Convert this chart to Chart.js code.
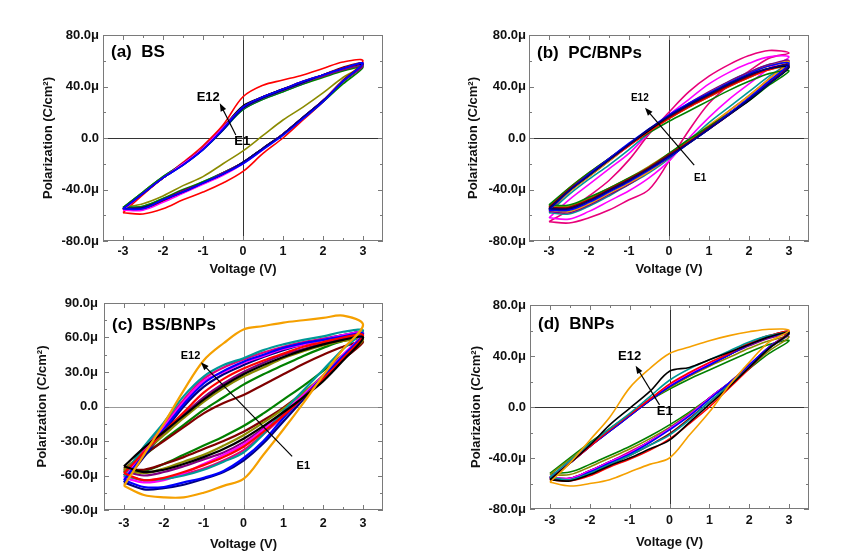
<!DOCTYPE html>
<html><head><meta charset="utf-8">
<script src="https://cdn.jsdelivr.net/npm/chart.js@4.4.0/dist/chart.umd.min.js"></script>
<style>
html,body{margin:0;padding:0;background:#fff;}
#wrap{position:relative;width:865px;height:558px;overflow:hidden;background:#fff;}
canvas{position:absolute;}
</style></head><body>
<div id="wrap">
<canvas id="ca" width="430" height="279" style="left:0;top:0"></canvas>
<canvas id="cb" width="435" height="279" style="left:430px;top:0"></canvas>
<canvas id="cc" width="430" height="279" style="left:0;top:279px"></canvas>
<canvas id="cd" width="435" height="279" style="left:430px;top:279px"></canvas>
</div>
<script>
// ---------- shared axes ----------
const voltage = [-3,-2.5,-2,-1.5,-1,-0.5,0,0.5,1,1.5,2,2.5,3];
const xTickValues = [-3,-2,-1,0,1,2,3];
const yTicks80 = [-80,-40,0,40,80];
const yTicks90 = [-90,-60,-30,0,30,60,90];

// ---------- (a) BS ----------
const bsColors = ['#0000FF','#000080','#FF00FF','#800080','#000000','#008000','#009999','#800000','#8B8B00','#FF0000','#E8007A','#4169E1'];
const bsUpper = [
 [-55,-43,-31,-21,-9,7,24,32,38,44,49,54,58],
 [-55,-43,-31,-21,-9,6,23,31,37,43,49,54,58],
 [-56,-43,-31,-20,-8,8,23,31,37,43,49,54,58],
 [-55,-43,-31,-20,-8,8,24,32,37,43,48,53,56],
 [-55,-43,-31,-20,-8,8,25,32,38,43,49,54,57],
 [-54,-42,-30,-20,-8,7,22,30,36,42,47,52,55],
 [-54,-42,-30,-20,-9,6,22,30,36,42,48,53,56],
 [-56,-43,-31,-20,-8,8,24,32,38,44,49,55,58],
 [-54,-42,-30,-20,-8,7,23,31,37,43,48,53,56],
 [-58,-44,-31,-19,-6,10,32,41,45,49,54,59,60],
 [-55,-43,-31,-20,-8,7,24,32,38,44,49,54,57],
 [-55,-43,-31,-21,-9,7,23,31,37,43,49,54,57]
];
const bsLower = [
 [-55,-55,-48,-42,-35,-28,-20,-9,2,15,28,44,58],
 [-55,-54,-48,-42,-35,-28,-19,-8,3,16,29,44,58],
 [-56,-56,-50,-43,-36,-29,-20,-9,3,15,29,44,58],
 [-55,-54,-48,-41,-35,-27,-19,-8,3,16,29,44,56],
 [-55,-54,-48,-41,-35,-28,-19,-8,3,16,29,44,57],
 [-54,-53,-47,-40,-34,-27,-19,-8,3,15,28,42,55],
 [-54,-53,-47,-41,-34,-27,-19,-8,3,16,29,44,56],
 [-56,-55,-49,-42,-35,-28,-19,-8,3,16,29,45,58],
 [-54,-51,-45,-37,-30,-20,-10,2,14,24,35,47,56],
 [-58,-59,-55,-48,-42,-35,-26,-12,0,14,28,44,60],
 [-55,-55,-49,-42,-35,-28,-19,-8,3,16,29,44,57],
 [-55,-54,-48,-42,-35,-28,-19,-8,3,16,29,44,57]
];

// ---------- (b) PC/BNPs ----------
const pcColors = ['#000080','#0000FF','#000000','#800000','#FF0000','#008000','#8B8B00','#F5A000','#800080','#009999','#FF00FF','#E8007A'];
const pcUpper = [
 [-55,-41,-29,-17,-5,7,17,26,34,42,49,54,56],
 [-56,-41,-28,-16,-4,7,18,27,35,43,50,56,58],
 [-55,-41,-29,-17,-5,6,17,26,34,42,49,54,55],
 [-54,-40,-28,-16,-5,6,16,25,33,41,48,54,57],
 [-54,-40,-28,-17,-6,5,15,24,32,40,47,53,56],
 [-52,-39,-27,-16,-5,4,13,21,29,37,44,50,52],
 [-53,-39,-27,-16,-5,5,15,24,32,40,47,53,55],
 [-56,-42,-30,-18,-6,5,16,26,35,43,50,56,59],
 [-57,-42,-30,-18,-6,6,17,27,36,44,51,57,60],
 [-58,-44,-32,-21,-9,4,16,26,35,44,51,57,59],
 [-62,-48,-36,-24,-12,4,18,30,42,51,58,63,63],
 [-65,-56,-45,-33,-17,3,20,36,48,57,64,68,66]
];
const pcLower = [
 [-55,-55,-49,-41,-33,-24,-14,-4,7,18,30,42,56],
 [-56,-56,-50,-42,-34,-25,-15,-4,7,19,31,44,58],
 [-55,-55,-49,-41,-33,-24,-15,-4,7,18,29,42,55],
 [-54,-54,-48,-40,-32,-23,-13,-3,8,19,31,44,57],
 [-54,-54,-48,-40,-32,-23,-13,-3,7,18,30,43,56],
 [-52,-52,-46,-39,-31,-23,-12,-1,9,19,29,41,52],
 [-53,-53,-47,-39,-31,-22,-12,-2,8,19,30,43,55],
 [-56,-57,-51,-43,-35,-26,-15,-2,10,21,33,46,59],
 [-57,-58,-52,-44,-36,-26,-15,-3,9,21,33,46,60],
 [-58,-59,-53,-45,-36,-27,-16,-2,12,24,36,48,59],
 [-62,-63,-57,-49,-41,-31,-18,0,16,30,42,54,63],
 [-65,-66,-62,-56,-48,-40,-18,6,27,41,52,62,66]
];

// ---------- (c) BS/BNPs ----------
const bsbColors = ['#F5A000','#000000','#FF0000','#0000FF','#009999','#FF00FF','#8B8B00','#000080','#800000','#008000','#800080','#E8007A'];
const bsbUpper = [
 [-69,-42,-15,14,40,55,67,70,73,75,77,79,71],
 [-52,-36,-22,-8,6,18,28,36,43,49,54,58,60],
 [-58,-40,-22,-5,12,24,33,40,46,52,56,60,62],
 [-64,-42,-20,2,20,31,39,45,51,55,58,61,63],
 [-60,-35,-14,9,26,36,42,49,54,58,61,65,66],
 [-62,-40,-18,4,22,30,38,44,50,54,58,62,64],
 [-55,-40,-25,-10,4,16,26,34,42,48,53,57,58],
 [-66,-44,-22,0,17,28,36,43,49,54,58,62,64],
 [-54,-42,-30,-18,-6,3,10,19,28,37,45,52,56],
 [-57,-43,-29,-16,-3,8,19,28,36,44,51,57,60],
 [-56,-40,-24,-7,8,20,30,38,45,50,55,59,60],
 [-60,-38,-16,6,24,34,41,47,52,56,59,62,64]
];
const bsbLower = [
 [-69,-77,-79,-79,-75,-69,-63,-42,-20,3,27,50,71],
 [-52,-57,-55,-50,-44,-37,-28,-17,-5,8,22,40,60],
 [-58,-64,-62,-57,-51,-44,-35,-22,-8,8,24,42,62],
 [-64,-70,-70,-66,-62,-56,-45,-30,-10,8,26,44,63],
 [-60,-64,-63,-60,-55,-48,-40,-24,-4,14,32,50,66],
 [-62,-66,-64,-58,-50,-42,-33,-20,-5,10,27,45,64],
 [-55,-58,-54,-48,-42,-34,-25,-14,-2,12,27,43,58],
 [-66,-72,-71,-68,-63,-57,-47,-32,-13,6,25,44,64],
 [-54,-55,-50,-44,-37,-30,-22,-12,-1,12,26,41,56],
 [-57,-56,-50,-42,-34,-26,-17,-6,6,18,31,45,60],
 [-56,-60,-57,-52,-46,-40,-31,-19,-6,9,25,42,60],
 [-60,-64,-63,-59,-54,-47,-38,-24,-8,10,27,45,64]
];

// ---------- (d) BNPs ----------
const bnpColors = ['#F5A000','#000000','#009999','#FF0000','#0000FF','#FF00FF','#000080','#800000','#E8007A','#800080','#8B8B00','#008000'];
const bnpUpper = [
 [-59,-44,-26,-8,15,30,42,47,52,56,59,61,60],
 [-57,-44,-30,-14,-1,12,28,31,37,43,49,55,58],
 [-55,-42,-29,-17,-5,8,21,30,37,44,51,56,58],
 [-57,-44,-31,-18,-6,6,18,27,35,42,50,56,59],
 [-56,-44,-31,-19,-7,5,16,25,33,41,49,55,58],
 [-55,-43,-30,-18,-6,6,17,26,34,42,49,55,58],
 [-56,-44,-31,-19,-7,5,16,25,33,41,49,55,58],
 [-56,-43,-30,-18,-6,6,17,26,34,42,50,56,59],
 [-56,-44,-31,-19,-7,5,16,25,33,41,49,55,58],
 [-55,-43,-30,-18,-6,6,17,26,34,41,48,54,57],
 [-53,-41,-29,-17,-6,5,15,24,32,39,46,52,55],
 [-52,-40,-28,-17,-6,5,14,22,29,36,43,49,52]
];
const bnpLower = [
 [-59,-62,-60,-57,-51,-45,-40,-22,-4,17,35,51,60],
 [-57,-58,-53,-46,-40,-33,-26,-12,2,16,31,46,58],
 [-55,-57,-52,-45,-38,-30,-22,-10,4,17,31,46,58],
 [-57,-58,-54,-47,-41,-34,-25,-13,0,15,30,46,59],
 [-56,-57,-51,-44,-37,-28,-18,-7,6,19,33,47,58],
 [-55,-56,-50,-43,-36,-27,-17,-6,7,19,33,47,58],
 [-56,-56,-50,-43,-36,-27,-17,-6,7,19,33,47,58],
 [-56,-57,-52,-45,-38,-30,-21,-9,4,17,31,46,59],
 [-56,-56,-50,-43,-35,-27,-17,-6,7,19,33,47,58],
 [-55,-56,-50,-43,-36,-27,-17,-6,7,19,32,46,57],
 [-53,-53,-47,-40,-33,-25,-16,-5,7,19,31,44,55],
 [-52,-51,-45,-38,-31,-23,-14,-4,7,18,30,42,52]
];

// ---------- annotations (data coordinates) ----------
const notes = {
  ca: {label:'(a)  BS',      arrowFrom:[-0.18,2.3],  arrowTo:[-0.58,27],   e12:[-0.87,31.8], e1:[-0.02,-2.8], fs:13},
  cb: {label:'(b)  PC/BNPs', arrowFrom:[0.63,-21],   arrowTo:[-0.6,23.5],  e12:[-0.73,30.8], e1:[0.78,-31.3], fs:10},
  cc: {label:'(c)  BS/BNPs', arrowFrom:[1.22,-43.4], arrowTo:[-1.07,38.4], e12:[-1.33,43.6], e1:[1.5,-52],    fs:11},
  cd: {label:'(d)  BNPs',    arrowFrom:[-0.25,1.7],  arrowTo:[-0.85,32.4], e12:[-1.0,39.9],  e1:[-0.12,-3.8], fs:13}
};

const FONT = '"Liberation Sans", Arial, sans-serif';

function loopPoints(lower, upper){
  const pts = voltage.map((v,i)=>({x:v, y:lower[i]}));
  for (let i = voltage.length-2; i >= 0; i--) pts.push({x:voltage[i], y:upper[i]});
  return pts;
}

const decoPlugin = {
  id:'deco',
  beforeDatasetsDraw(chart, args, o){
    const {ctx, chartArea:a, scales:{x,y}} = chart;
    ctx.save();
    ctx.strokeStyle = o.zeroColor; ctx.lineWidth = 1;
    const x0 = Math.round(x.getPixelForValue(0))+0.5, y0 = Math.round(y.getPixelForValue(0))+0.5;
    ctx.beginPath();
    ctx.moveTo(x0,a.top); ctx.lineTo(x0,a.bottom);
    ctx.moveTo(a.left,y0); ctx.lineTo(a.right,y0);
    ctx.stroke();
    ctx.restore();
  },
  afterDatasetsDraw(chart, args, o){
    const {ctx, chartArea:a, scales:{x,y}} = chart;
    const n = notes[chart.canvas.id];
    ctx.save();
    ctx.strokeStyle = '#7a7a7a'; ctx.lineWidth = 1;
    ctx.strokeRect(Math.round(a.left)+0.5, Math.round(a.top)+0.5, Math.round(a.right-a.left)-1, Math.round(a.bottom-a.top)-1);
    const xt = xTickValues, yt = o.yTicks;
    const tick = (px, len, vertical) => {
      ctx.beginPath();
      if (vertical){
        ctx.moveTo(px, a.bottom); ctx.lineTo(px, a.bottom-len);
        ctx.moveTo(px, a.top); ctx.lineTo(px, a.top+len);
      } else {
        ctx.moveTo(a.left, px); ctx.lineTo(a.left+len, px);
        ctx.moveTo(a.right, px); ctx.lineTo(a.right-len, px);
      }
      ctx.stroke();
    };
    xt.forEach((v,i)=>{
      tick(Math.round(x.getPixelForValue(v))+0.5, 5, true);
      if (i < xt.length-1) tick(Math.round(x.getPixelForValue((v+xt[i+1])/2))+0.5, 3, true);
    });
    yt.forEach((v,i)=>{
      tick(Math.round(y.getPixelForValue(v))+0.5, 5, false);
      if (i < yt.length-1) tick(Math.round(y.getPixelForValue((v+yt[i+1])/2))+0.5, 3, false);
    });
    const fx = x.getPixelForValue(n.arrowFrom[0]), fy = y.getPixelForValue(n.arrowFrom[1]);
    const tx = x.getPixelForValue(n.arrowTo[0]), ty = y.getPixelForValue(n.arrowTo[1]);
    const ang = Math.atan2(ty-fy, tx-fx);
    ctx.strokeStyle = '#000'; ctx.fillStyle = '#000'; ctx.lineWidth = 1.2;
    ctx.beginPath(); ctx.moveTo(fx,fy); ctx.lineTo(tx-Math.cos(ang)*5, ty-Math.sin(ang)*5); ctx.stroke();
    ctx.beginPath();
    ctx.moveTo(tx,ty);
    ctx.lineTo(tx-Math.cos(ang)*8+Math.sin(ang)*3, ty-Math.sin(ang)*8-Math.cos(ang)*3);
    ctx.lineTo(tx-Math.cos(ang)*8-Math.sin(ang)*3, ty-Math.sin(ang)*8+Math.cos(ang)*3);
    ctx.closePath(); ctx.fill();
    ctx.font = 'bold '+n.fs+'px '+FONT;
    ctx.textAlign = 'center'; ctx.textBaseline = 'middle';
    ctx.fillText('E12', x.getPixelForValue(n.e12[0]), y.getPixelForValue(n.e12[1]));
    ctx.fillText('E1', x.getPixelForValue(n.e1[0]), y.getPixelForValue(n.e1[1]));
    ctx.font = 'bold 17px '+FONT;
    ctx.textAlign = 'left';
    ctx.fillText(n.label, a.left+8, a.top+o.labelDy);
    ctx.restore();
  }
};

const panels = [
  {id:'ca', upper:bsUpper,  lower:bsLower,  colors:bsColors,  yTicks:yTicks80, yMin:-80, yMax:80, pad:{left:0,top:35,right:47,bottom:2}, yW:103, xH:36, yTitlePad:41, yTickPad:4, xTickPad:3, zero:'#333', lw:1.6, labelDy:17},
  {id:'cb', upper:pcUpper,  lower:pcLower,  colors:pcColors,  yTicks:yTicks80, yMin:-80, yMax:80, pad:{left:0,top:35,right:56,bottom:2}, yW:99,  xH:36, yTitlePad:36, yTickPad:3, xTickPad:3, zero:'#333', lw:1.6, labelDy:18},
  {id:'cc', upper:bsbUpper, lower:bsbLower, colors:bsbColors, yTicks:yTicks90, yMin:-90, yMax:90, pad:{left:0,top:24,right:47,bottom:6}, yW:104, xH:42, yTitlePad:35, yTickPad:6, xTickPad:6, zero:'#999', lw:2.2, labelDy:22},
  {id:'cd', upper:bnpUpper, lower:bnpLower, colors:bnpColors, yTicks:yTicks80, yMin:-80, yMax:80, pad:{left:0,top:26,right:56,bottom:8}, yW:100, xH:41, yTitlePad:39, yTickPad:4, xTickPad:4, zero:'#333', lw:1.6, labelDy:19}
];

panels.forEach(p=>{
  const datasets = p.upper.map((u,i)=>({
    data: loopPoints(p.lower[i], u),
    showLine:true, borderColor:p.colors[i], backgroundColor:p.colors[i],
    borderWidth:p.lw, pointRadius:0, tension:0.35, fill:false
  }));
  new Chart(document.getElementById(p.id), {
    type:'scatter',
    data:{datasets},
    plugins:[decoPlugin],
    options:{
      responsive:false, animation:false, events:[],
      layout:{padding:p.pad},
      plugins:{legend:{display:false}, tooltip:{enabled:false},
        deco:{zeroColor:p.zero, yTicks:p.yTicks, labelDy:p.labelDy}},
      scales:{
        x:{type:'linear', min:-3.5, max:3.5,
          afterBuildTicks:s=>{s.ticks = xTickValues.map(v=>({value:v}));},
          afterFit:s=>{s.height = p.xH;},
          grid:{display:false, drawTicks:false}, border:{display:false},
          ticks:{color:'#111', padding:p.xTickPad, font:{family:FONT, size:12.5, weight:'bold'}, maxRotation:0, callback:v=>String(v)},
          title:{display:true, text:'Voltage (V)', color:'#111', padding:{top:0,bottom:0}, font:{family:FONT, size:13, weight:'bold'}}
        },
        y:{type:'linear', min:p.yMin, max:p.yMax,
          afterBuildTicks:s=>{s.ticks = p.yTicks.map(v=>({value:v}));},
          afterFit:s=>{s.width = p.yW;},
          grid:{display:false, drawTicks:false}, border:{display:false},
          ticks:{color:'#111', padding:p.yTickPad, font:{family:FONT, size:13, weight:'bold'},
            callback:v=> v===0 ? '0.0' : v.toFixed(1)+'μ'},
          title:{display:true, text:'Polarization (C/cm²)', color:'#111', padding:{top:p.yTitlePad,bottom:0}, font:{family:FONT, size:13, weight:'bold'}}
        }
      }
    }
  });
});
</script>
</body></html>
